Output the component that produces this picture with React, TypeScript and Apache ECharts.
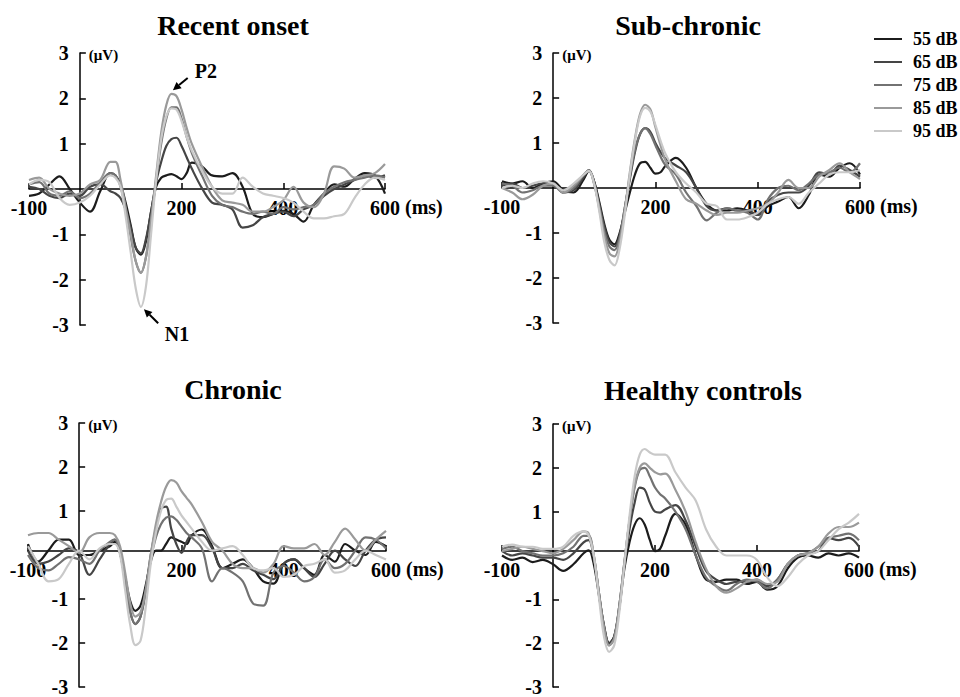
import React, { useEffect, useRef } from 'react';
import * as echarts from 'echarts';

// ---- data ----
const timesMs = [-100, -80, -60, -40, -20, 0, 20, 40, 60, 70, 80, 90, 100, 110, 120, 130, 140, 150, 160, 170, 180, 190, 200, 210, 220, 240, 260, 280, 300, 320, 340, 360, 380, 400, 420, 440, 460, 480, 500, 520, 540, 560, 580, 600];
const levels = ['55 dB', '65 dB', '75 dB', '85 dB', '95 dB'];
const panelTitles = ['Recent onset', 'Sub-chronic', 'Chronic', 'Healthy controls'];
const xLabelValues = [-100, 200, 400, 600];
const yLabelValues = [-3, -2, -1, 1, 2, 3];

// Recent onset (µV)
const recent55 = [-0.15, -0.1, 0.1, 0.28, 0.0, -0.3, -0.5, -0.05, 0.35, 0.3, 0.1, -0.3, -0.8, -1.3, -1.45, -1.15, -0.5, 0.05, 0.25, 0.3, 0.33, 0.28, 0.22, 0.35, 0.58, 0.5, 0.3, 0.28, 0.35, 0.05, -0.55, -0.62, -0.55, -0.48, -0.55, -0.72, -0.35, -0.1, 0.1, 0.05, 0.22, 0.35, 0.3, -0.1];
const recent65 = [0.05, 0.0, -0.15, -0.2, -0.1, -0.15, 0.05, 0.1, -0.05, -0.1, -0.2, -0.45, -0.85, -1.3, -1.42, -1.1, -0.5, 0.15, 0.6, 0.95, 1.1, 1.13, 0.95, 0.7, 0.45, 0.02, -0.3, -0.35, -0.45, -0.85, -0.8, -0.62, -0.55, -0.5, -0.6, -0.45, -0.35, -0.15, 0.0, 0.1, 0.2, 0.3, 0.25, 0.3];
const recent75 = [0.1, 0.15, -0.1, -0.15, -0.05, -0.2, -0.1, 0.15, 0.35, 0.3, 0.05, -0.45, -1.05, -1.6, -1.85, -1.5, -0.7, 0.2, 1.0, 1.55, 1.8, 1.8, 1.55, 1.15, 0.8, 0.3, -0.15, -0.35, -0.4, -0.5, -0.55, -0.5, -0.55, -0.4, -0.45, -0.4, -0.35, -0.1, 0.05, 0.15, 0.2, 0.25, 0.3, 0.25];
const recent85 = [0.2, 0.25, 0.0, -0.1, -0.15, -0.1, 0.1, 0.2, 0.6, 0.6, 0.2, -0.4, -1.0, -1.6, -1.85, -1.5, -0.7, 0.3, 1.25, 1.85, 2.1, 2.05, 1.75, 1.35, 1.0, 0.5, 0.05, -0.25, -0.3, -0.35, -0.5, -0.5, -0.4, -0.25, 0.05, -0.3, -0.4, -0.1, 0.5, 0.45, 0.25, 0.3, 0.35, 0.55];
const recent95 = [0.1, 0.2, 0.15, -0.2, -0.35, -0.3, -0.15, 0.1, 0.3, 0.25, 0.05, -0.6, -1.4, -2.2, -2.6, -2.15, -1.0, 0.2, 1.1, 1.6, 1.78, 1.75, 1.5, 1.15, 0.85, 0.4, 0.05, -0.1, -0.1, 0.25, 0.05, -0.1, -0.15, -0.2, -0.3, -0.5, -0.65, -0.65, -0.6, -0.55, -0.2, 0.1, 0.25, 0.2];

// Sub-chronic (µV)
const sub55 = [0.15, 0.1, 0.15, 0.0, 0.1, 0.15, -0.05, -0.1, 0.2, 0.38, 0.15, -0.3, -0.8, -1.15, -1.25, -1.0, -0.55, -0.1, 0.3, 0.55, 0.58, 0.45, 0.32, 0.35, 0.5, 0.67, 0.45, 0.0, -0.35, -0.5, -0.5, -0.45, -0.5, -0.6, -0.4, -0.3, -0.2, -0.45, -0.15, 0.3, 0.25, 0.45, 0.55, 0.3];
const sub65 = [0.05, 0.1, 0.0, 0.05, 0.1, 0.1, -0.1, -0.05, 0.25, 0.4, 0.15, -0.35, -0.85, -1.2, -1.3, -1.05, -0.45, 0.2, 0.8, 1.2, 1.33, 1.25, 1.0, 0.8, 0.65, 0.5, 0.35, 0.0, -0.4, -0.5, -0.45, -0.5, -0.5, -0.6, -0.3, -0.15, -0.1, -0.1, 0.05, 0.35, 0.3, 0.5, 0.4, 0.25];
const sub75 = [0.1, 0.05, -0.1, -0.05, 0.05, 0.05, -0.1, 0.0, 0.3, 0.4, 0.1, -0.4, -0.95, -1.3, -1.38, -1.1, -0.45, 0.25, 0.85, 1.2, 1.33, 1.2, 0.95, 0.7, 0.5, 0.3, -0.1, -0.4, -0.72, -0.55, -0.45, -0.5, -0.55, -0.7, -0.25, 0.0, 0.05, -0.05, 0.1, 0.3, 0.35, 0.45, 0.35, 0.55];
const sub85 = [0.0, -0.1, -0.25, -0.15, 0.05, 0.1, -0.1, 0.05, 0.3, 0.38, 0.1, -0.45, -1.05, -1.45, -1.52, -1.2, -0.5, 0.35, 1.1, 1.65, 1.85, 1.75, 1.35, 0.95, 0.6, 0.15, -0.25, -0.35, -0.5, -0.6, -0.55, -0.55, -0.5, -0.45, -0.35, -0.1, 0.18, 0.0, 0.0, 0.25, 0.4, 0.55, 0.35, 0.2];
const sub95 = [0.0, 0.05, 0.0, 0.1, 0.15, 0.1, -0.05, 0.1, 0.3, 0.38, 0.1, -0.5, -1.2, -1.6, -1.72, -1.35, -0.6, 0.3, 1.05, 1.6, 1.78, 1.7, 1.4, 1.05, 0.75, 0.35, 0.1, -0.1, -0.35, -0.4, -0.7, -0.7, -0.65, -0.55, -0.35, -0.25, -0.2, -0.35, -0.1, 0.1, 0.3, 0.35, 0.35, 0.4];

// Chronic (µV)
const chronic55 = [0.25, -0.15, 0.1, 0.35, 0.35, 0.0, 0.0, 0.1, 0.2, 0.3, 0.05, -0.5, -1.05, -1.27, -1.15, -0.7, -0.15, 0.1, 0.1, 0.25, 0.4, 0.35, 0.3, 0.25, 0.45, 0.58, 0.2, -0.3, -0.2, -0.1, -0.3, -0.6, -0.65, -0.2, -0.1, -0.3, -0.45, 0.0, -0.15, 0.25, 0.1, 0.0, 0.3, 0.2];
const chronic65 = [0.1, -0.2, -0.15, 0.0, 0.15, 0.05, -0.45, -0.1, 0.25, 0.35, 0.05, -0.6, -1.3, -1.57, -1.4, -0.8, 0.0, 0.6, 1.05, 1.1, 0.6, 0.25, 0.05, 0.3, 0.45, 0.45, 0.15, -0.3, -0.3, -0.2, -0.35, -0.45, -0.55, -0.2, -0.1, -0.3, -0.5, -0.2, 0.1, -0.1, -0.25, 0.1, 0.35, 0.4];
const chronic75 = [0.0, -0.3, -0.35, -0.2, -0.05, -0.1, -0.2, 0.1, 0.3, 0.35, 0.05, -0.6, -1.3, -1.57, -1.4, -0.85, -0.1, 0.4, 0.7, 0.85, 0.88, 0.8, 0.65, 0.5, 0.4, 0.15, -0.6, -0.3, -0.4, -0.6, -1.1, -1.15, -0.4, -0.25, -0.4, -0.6, -0.5, -0.1, -0.3, -0.2, 0.1, 0.4, 0.35, 0.15];
const chronic85 = [0.45, 0.5, 0.5, 0.35, 0.2, 0.05, 0.4, 0.5, 0.5, 0.45, 0.2, -0.4, -1.1, -1.4, -1.3, -0.8, 0.0, 0.7, 1.2, 1.55, 1.7, 1.65, 1.45, 1.3, 1.15, 0.75, 0.3, 0.1, -0.2, -0.3, -0.3, -0.4, -0.2, 0.2, 0.15, 0.15, 0.25, 0.0, 0.3, 0.6, 0.35, 0.1, 0.35, 0.55];
const chronic95 = [0.2, -0.2, -0.6, -0.55, -0.2, 0.1, -0.1, 0.15, 0.25, 0.25, 0.0, -0.8, -1.6, -2.05, -1.95, -1.2, -0.2, 0.5, 1.0, 1.25, 1.28, 1.1, 0.9, 0.75, 0.6, 0.3, 0.1, 0.15, 0.2, 0.0, -0.3, -0.35, -0.3, -0.5, -0.45, -0.25, -0.2, -0.1, -0.4, -0.35, -0.1, 0.1, 0.0, -0.1];

// Healthy controls (µV)
const healthy55 = [0.0, -0.1, -0.05, -0.15, -0.1, -0.2, -0.35, -0.2, 0.05, 0.12, -0.2, -0.9, -1.6, -2.0, -1.85, -1.2, -0.3, 0.3, 0.7, 0.85, 0.7, 0.35, 0.1, 0.15, 0.45, 0.95, 0.7, 0.0, -0.55, -0.6, -0.55, -0.55, -0.65, -0.6, -0.78, -0.7, -0.3, -0.05, 0.0, -0.05, 0.05, 0.0, 0.05, -0.05];
const healthy65 = [0.1, 0.0, 0.05, 0.0, -0.05, -0.05, -0.1, 0.05, 0.3, 0.35, -0.05, -0.85, -1.6, -2.0, -1.85, -1.15, -0.2, 0.6, 1.2, 1.55, 1.5, 1.2, 1.0, 0.98, 1.05, 1.15, 0.8, 0.2, -0.35, -0.55, -0.65, -0.6, -0.6, -0.55, -0.7, -0.55, -0.2, 0.0, 0.05, 0.1, 0.4, 0.35, 0.4, 0.2];
const healthy75 = [0.15, 0.2, 0.1, 0.05, 0.0, 0.0, 0.05, 0.2, 0.45, 0.45, 0.0, -0.85, -1.65, -2.05, -1.9, -1.15, -0.15, 0.8, 1.55, 1.95, 2.0, 1.8, 1.55, 1.4, 1.3, 1.0, 0.6, 0.0, -0.5, -0.7, -0.8, -0.65, -0.55, -0.6, -0.75, -0.55, -0.2, 0.0, 0.05, 0.2, 0.4, 0.45, 0.5, 0.35];
const healthy85 = [0.1, 0.15, 0.2, 0.15, 0.1, 0.05, 0.15, 0.35, 0.55, 0.5, 0.0, -0.85, -1.65, -2.05, -1.9, -1.15, -0.15, 0.8, 1.6, 2.0, 2.1, 2.0, 1.9, 1.85, 1.87, 1.5, 1.0, 0.3, -0.3, -0.7, -0.85, -0.75, -0.6, -0.55, -0.65, -0.6, -0.2, 0.0, 0.05, 0.2, 0.5, 0.65, 0.65, 0.75];
const healthy95 = [0.2, 0.25, 0.2, 0.2, 0.15, 0.15, 0.2, 0.45, 0.55, 0.45, 0.0, -0.95, -1.85, -2.2, -2.05, -1.3, -0.2, 0.9, 1.8, 2.3, 2.43, 2.35, 2.3, 2.3, 2.3, 1.9, 1.55, 1.25, 0.6, 0.2, 0.0, 0.0, 0.0, -0.1, -0.5, -0.7, -0.5, -0.2, 0.0, 0.1, 0.35, 0.6, 0.75, 0.95];

// annotations (Recent onset panel): [ms, µV]
const p2Arrow = [[212, 2.45], [183, 2.18]];
const p2Label = [248, 2.6];
const n1Arrow = [[154, -2.96], [126, -2.65]];
const n1Label = [191, -3.2];

const panelData = [
  [recent55, recent65, recent75, recent85, recent95],
  [sub55, sub65, sub75, sub85, sub95],
  [chronic55, chronic65, chronic75, chronic85, chronic95],
  [healthy55, healthy65, healthy75, healthy85, healthy95],
];

const X_MIN = -100;
const X_MAX = 600;
const Y_MIN = -3;
const Y_MAX = 3;

const FONT = "'Liberation Serif', 'Times New Roman', serif";
const lineColors = ['#1c1c1c', '#454545', '#727272', '#9a9a9a', '#c9c9c9'];
const grids = [
  { left: 29, top: 53, width: 356, height: 272 },
  { left: 502, top: 53, width: 358, height: 270 },
  { left: 28, top: 423, width: 358, height: 272 },
  { left: 502, top: 424, width: 357, height: 272 },
];
const titlePos = [
  [233, 11],
  [688, 11],
  [233, 375],
  [703, 376],
];

export default function App() {
  const ref = useRef<HTMLDivElement>(null);
  useEffect(() => {
    document.body.style.margin = '0';
    if (!ref.current) return;
    const chart = echarts.init(ref.current, null, { renderer: 'svg' });

    // axes cross at (0 ms, 0 µV): shift each axis from its grid edge to the zero of the other axis
    const xAxes = grids.map((g, i) => ({
      type: 'value',
      gridIndex: i,
      min: X_MIN,
      max: X_MAX,
      interval: 100,
      position: 'bottom',
      offset: -g.height * (0 - Y_MIN) / (Y_MAX - Y_MIN),
      name: '(ms)',
      nameLocation: 'end',
      nameGap: 20,
      nameTextStyle: {
        fontFamily: FONT, fontWeight: 'bold', fontSize: 20, color: '#000',
        verticalAlign: 'top', align: 'left', padding: [8, 0, 0, 0],
      },
      axisLine: { onZero: false, lineStyle: { color: '#000', width: 1.5 } },
      axisTick: { show: true, inside: true, length: 6, customValues: xLabelValues, lineStyle: { color: '#000', width: 1.5 } },
      axisLabel: {
        customValues: xLabelValues, margin: 9,
        fontFamily: FONT, fontWeight: 'bold', fontSize: 20, color: '#000',
      },
      splitLine: { show: false },
    }));
    const yAxes = grids.map((g, i) => ({
      type: 'value',
      gridIndex: i,
      min: Y_MIN,
      max: Y_MAX,
      interval: 1,
      position: 'left',
      offset: -g.width * (0 - X_MIN) / (X_MAX - X_MIN),
      name: '(\u03bcV)',
      nameLocation: 'end',
      nameGap: -2,
      nameTextStyle: {
        fontFamily: FONT, fontWeight: 'bold', fontSize: 15, color: '#000',
        align: 'left', verticalAlign: 'middle', padding: [0, 0, 0, 9],
      },
      axisLine: { onZero: false, lineStyle: { color: '#000', width: 1.5 } },
      axisTick: { show: true, inside: true, length: 6, customValues: yLabelValues, lineStyle: { color: '#000', width: 1.5 } },
      axisLabel: {
        customValues: yLabelValues, margin: 11,
        fontFamily: FONT, fontWeight: 'bold', fontSize: 20, color: '#000',
      },
      splitLine: { show: false },
    }));

    const series: any[] = [];
    panelData.forEach((panel, pi) => {
      panel.forEach((vals, li) => {
        series.push({
          type: 'line',
          name: levels[li],
          xAxisIndex: pi,
          yAxisIndex: pi,
          data: timesMs.map((t, k) => [t, vals[k]]),
          smooth: 0.35,
          symbol: 'none',
          lineStyle: { width: 2.2, color: lineColors[li] },
          itemStyle: { color: lineColors[li] },
          z: 2 + li,
        });
      });
    });

    chart.setOption({
      animation: false,
      backgroundColor: '#fff',
      title: panelTitles.map((t, i) => ({
        text: t,
        left: titlePos[i][0],
        top: titlePos[i][1],
        textAlign: 'center',
        padding: 0,
        textStyle: { fontFamily: FONT, fontWeight: 'bold', fontSize: 28, color: '#000' },
      })),
      legend: {
        data: levels,
        orient: 'vertical',
        left: 869,
        top: 25,
        itemWidth: 28,
        itemHeight: 12,
        itemGap: 5,
        icon: 'path://M0,5 L28,5 L28,7 L0,7 Z',
        textStyle: { fontFamily: FONT, fontWeight: 'bold', fontSize: 18, lineHeight: 18, color: '#000', padding: [0, 0, 0, 6] },
        selectedMode: false,
      },
      grid: grids.map((g) => ({ ...g, containLabel: false })),
      xAxis: xAxes,
      yAxis: yAxes,
      series,
    });

    // annotations from data coordinates
    const px = (p: number[]) => chart.convertToPixel({ gridIndex: 0 }, p) as number[];
    const arrow = (from: number[], to: number[]) => {
      const a = px(from);
      const b = px(to);
      const dx = b[0] - a[0];
      const dy = b[1] - a[1];
      const len = Math.sqrt(dx * dx + dy * dy);
      const ux = dx / len;
      const uy = dy / len;
      const hl = 8;
      const hw = 4;
      const bx = b[0] - ux * hl;
      const by = b[1] - uy * hl;
      return [
        { type: 'line', shape: { x1: a[0], y1: a[1], x2: bx, y2: by }, style: { stroke: '#000', lineWidth: 2 } },
        {
          type: 'polygon',
          shape: { points: [[b[0], b[1]], [bx - uy * hw, by + ux * hw], [bx + uy * hw, by - ux * hw]] },
          style: { fill: '#000' },
        },
      ];
    };
    const lbl = (p: number[], text: string) => {
      const q = px(p);
      return {
        type: 'text',
        x: q[0],
        y: q[1],
        style: { text, fill: '#000', font: `bold 20px ${FONT}`, align: 'center', verticalAlign: 'middle' },
      };
    };
    chart.setOption({
      graphic: [
        ...arrow(p2Arrow[0], p2Arrow[1]),
        ...arrow(n1Arrow[0], n1Arrow[1]),
        lbl(p2Label, 'P2'),
        lbl(n1Label, 'N1'),
      ],
    });

    return () => chart.dispose();
  }, []);
  return <div ref={ref} style={{ width: 960, height: 697 }} />;
}
